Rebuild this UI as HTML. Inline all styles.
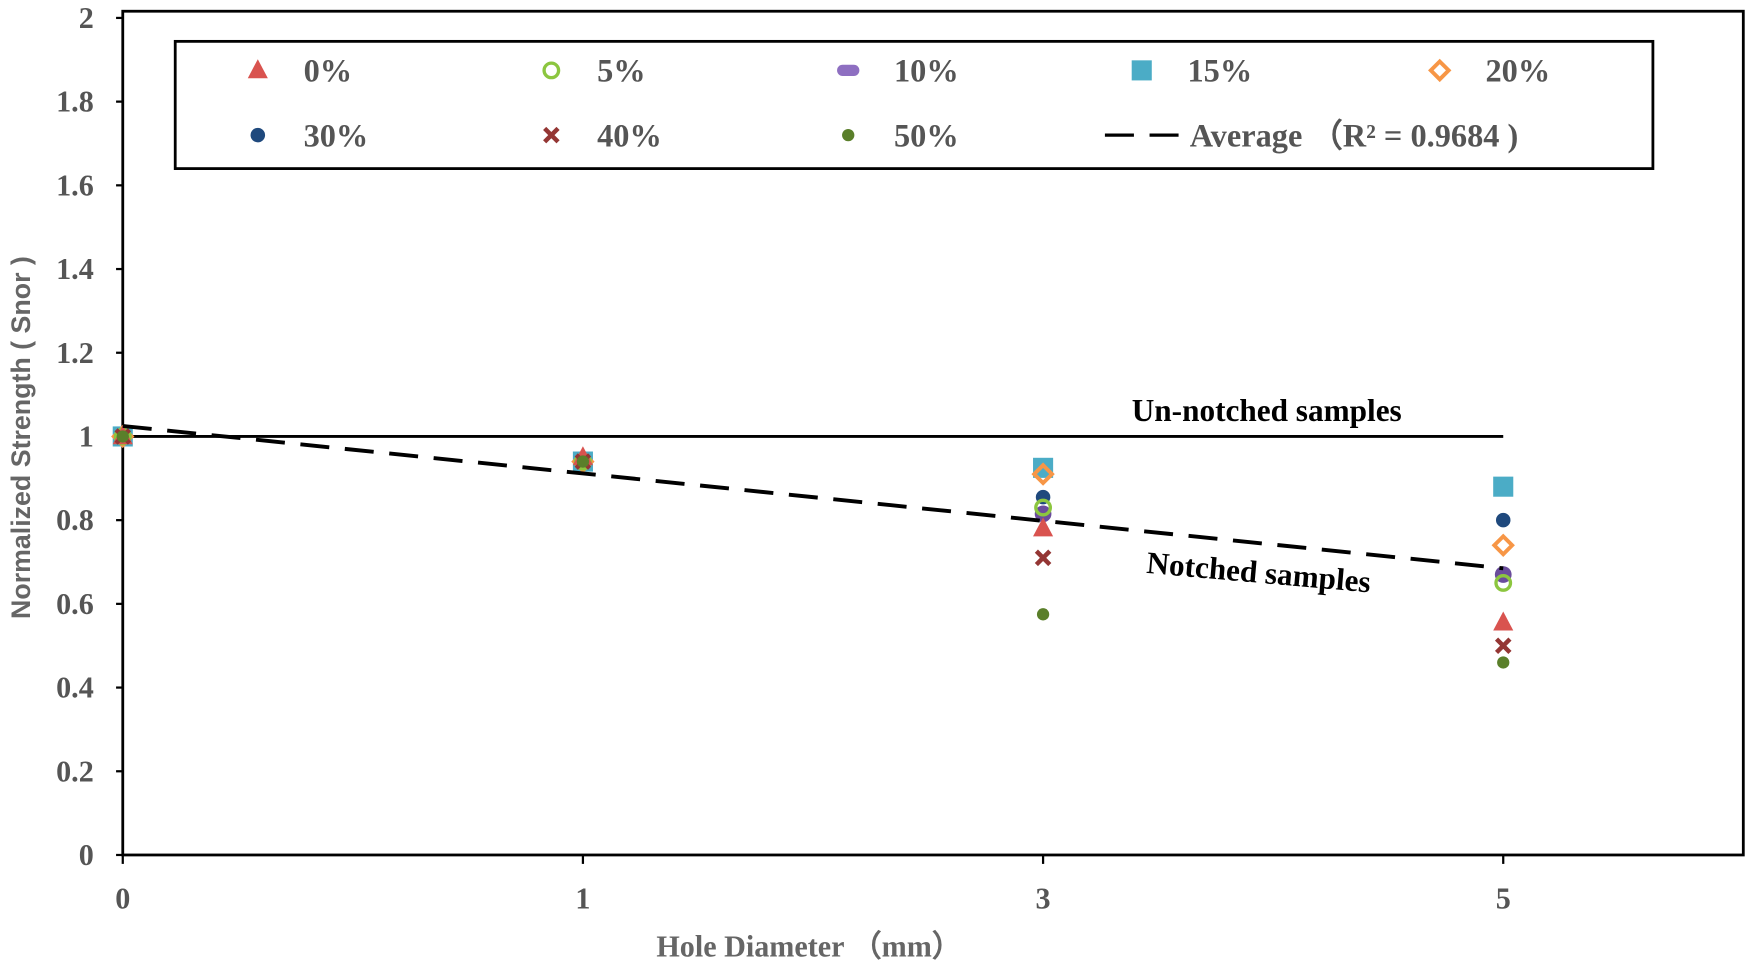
<!DOCTYPE html>
<html><head><meta charset="utf-8"><style>
html,body{margin:0;padding:0;background:#fff;}
svg{display:block;}
</style></head><body>
<svg id="chart" width="1750" height="970" viewBox="0 0 1568 869" xmlns="http://www.w3.org/2000/svg">
<rect x="0" y="0" width="1568" height="869" fill="#fff"/>
<g id="g"></g>
</svg>
<script>
const categories = [0, 1, 3, 5];
const seriesNames = ['0%','5%','10%','15%','20%','30%','40%','50%'];
const s0 = [1, 0.95, 0.78, 0.555];
const s5 = [1, 0.94, 0.83, 0.65];
const s10 = [1, 0.94, 0.815, 0.67];
const s15 = [1, 0.94, 0.925, 0.88];
const s20 = [1, 0.94, 0.91, 0.74];
const s30 = [1, 0.94, 0.855, 0.80];
const s40 = [1, 0.94, 0.71, 0.50];
const s50 = [1, 0.94, 0.575, 0.46];
const avgStart = 1.025, avgEnd = 0.685;
const unnotched = 1;
const yTicks = ['0','0.2','0.4','0.6','0.8','1','1.2','1.4','1.6','1.8','2'];

const NS='http://www.w3.org/2000/svg';
const g=document.getElementById('g');
const X0=110, XS=412.3, Y0=766, YS=375;
function xs(i){return X0+i*XS;}
function ys(v){return Y0-v*YS;}
function el(tag,attrs,parent){const e=document.createElementNS(NS,tag);for(const k in attrs)e.setAttribute(k,attrs[k]);(parent||g).appendChild(e);return e;}
const serif='"Liberation Serif", serif';

let e=el('rect',{x:X0,y:10,width:1452,height:Y0-10,fill:'none',stroke:'#000','stroke-width':2.5});



yTicks.forEach(t=>{const v=parseFloat(t);
 let l=el('line',{x1:X0-6,x2:X0,y1:ys(v),y2:ys(v),stroke:'#000','stroke-width':2});
 
 
 let tx=el('text',{x:X0-26,y:ys(v)+9,'text-anchor':'end','font-family':serif,'font-weight':'bold','font-size':27,fill:'#555'});
 tx.textContent=t;
 
 
});
categories.forEach((c,i)=>{
 let l=el('line',{x1:xs(i),x2:xs(i),y1:Y0,y2:Y0+8,stroke:'#000','stroke-width':2});
 
 
 let tx=el('text',{x:xs(i),y:Y0+48,'text-anchor':'middle','font-family':serif,'font-weight':'bold','font-size':27,fill:'#555'});
 tx.textContent=String(c);
 
 
});
let yt=el('text',{transform:'translate(27,392) rotate(-90)','text-anchor':'middle','font-family':'"Liberation Sans", sans-serif','font-weight':'bold','font-size':24,fill:'#666'});
yt.textContent='Normalized Strength ( Snor )';


let xt=el('text',{x:725,y:857,'text-anchor':'middle','font-family':serif,'font-weight':'bold','font-size':27,fill:'#666'});
xt.textContent='Hole Diameter （mm）';



let un=el('line',{x1:xs(0),x2:xs(3),y1:ys(unnotched),y2:ys(unnotched),stroke:'#000','stroke-width':2.5});


let ut=el('text',{x:1135,y:377,'text-anchor':'middle','font-family':serif,'font-weight':'bold','font-size':28,fill:'#000'});
ut.textContent='Un-notched samples';



const colors=['#d9534f','#8cc63f','#6a4c9c','#4bacc6','#f79646','#1f497d','#943634','#5a7f2a'];
const series=[s0,s5,s10,s15,s20,s30,s40,s50];
const order=[3,4,2,5,1,0,6,7];
function marker(k,x,y,parent,legend){
 const c=colors[k];let m;
 if(k===0) m=el('path',{d:`M${x} ${y-10}L${x+9} ${y+7}L${x-9} ${y+7}Z`,fill:c},parent);
 else if(k===1) m=el('circle',{cx:x,cy:y,r:6.5,fill:'none',stroke:c,'stroke-width':3},parent);
 else if(k===2) m=legend?el('rect',{x:x-10,y:y-5,width:20,height:10,rx:5,fill:'#8e6fc1'},parent):el('circle',{cx:x,cy:y,r:7.5,fill:c},parent);
 else if(k===3) m=el('rect',{x:x-9,y:y-9,width:18,height:18,fill:c},parent);
 else if(k===4) m=el('path',{d:`M${x} ${y-8}L${x+8} ${y}L${x} ${y+8}L${x-8} ${y}Z`,fill:'none',stroke:c,'stroke-width':3.5},parent);
 else if(k===5) m=el('circle',{cx:x,cy:y,r:6.5,fill:c},parent);
 else if(k===6) m=el('path',{d:`M${x-6} ${y-6}L${x+6} ${y+6}M${x+6} ${y-6}L${x-6} ${y+6}`,stroke:c,'stroke-width':4},parent);
 else m=el('circle',{cx:x,cy:y,r:5.5,fill:c},parent);
 return m;
}
order.forEach(k=>{
 const sg=el('g',{});
 
 
 series[k].forEach((v,i)=>{
  const m=marker(k,xs(i),ys(v),sg,false);
  
  
 });
});
let av=el('line',{x1:xs(0),x2:xs(3),y1:ys(avgStart),y2:ys(avgEnd),stroke:'#000','stroke-width':3.5,'stroke-dasharray':'26,14'});


let nt=el('text',{transform:'translate(1127,522) rotate(5)','text-anchor':'middle','font-family':serif,'font-weight':'bold','font-size':28,fill:'#000'});
nt.textContent='Notched samples';



const lg=el('g',{});


el('rect',{x:157,y:37,width:1324,height:114,fill:'#fff',stroke:'#000','stroke-width':2.5},lg);
const lx=[231,494,760,1023,1290], lty=[63,121];
seriesNames.forEach((n,k)=>{
 const r=k<5?0:1, c=k<5?k:k-5;
 const eg=el('g',{},lg);
 
 
 marker(k,lx[c],lty[r],eg,true);
 const t=el('text',{x:lx[c]+41,y:lty[r]+10,'font-family':serif,'font-weight':'bold','font-size':29,fill:'#555'},eg);
 t.textContent=n;
});
const ag=el('g',{},lg);


el('line',{x1:990,x2:1060,y1:121,y2:121,stroke:'#000','stroke-width':3,'stroke-dasharray':'26,14'},ag);
const at=el('text',{x:1066,y:131,'font-family':serif,'font-weight':'bold','font-size':29,fill:'#555'},ag);
at.textContent='Average （R² = 0.9684 )';
</script>
</body></html>
